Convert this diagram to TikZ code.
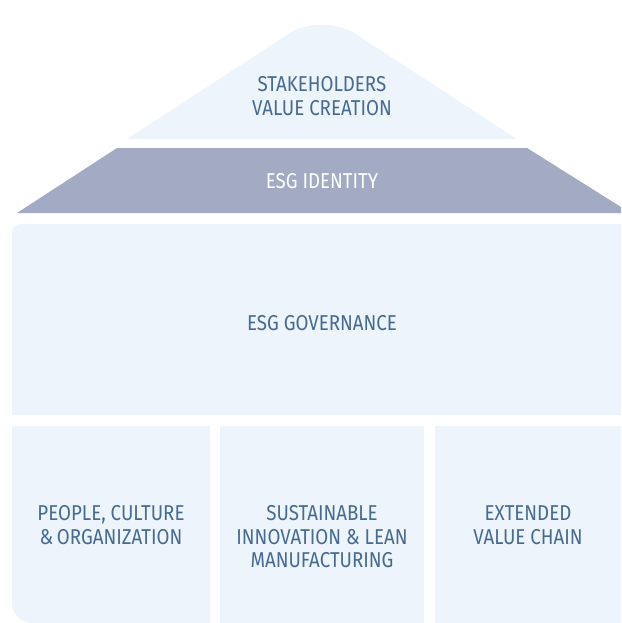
\documentclass[tikz,border=0pt]{standalone}
\usepackage{fontspec}
\setmainfont{Fira Sans}[FakeStretch=0.87]
\usetikzlibrary{positioning}
\definecolor{paleblue}{HTML}{EDF4FB}
\definecolor{bandgrey}{HTML}{A2ABC3}
\definecolor{inkblue}{HTML}{466A92}
\tikzset{every node/.style={font=\fontsize{21.5}{23.5}\selectfont, align=center}}

\begin{document}
\begin{tikzpicture}[x=1pt, y=-1pt]
  \tikzstyle{block}=[fill=paleblue]
  \tikzstyle{label}=[text=inkblue]
  \useasboundingbox (0,0) rectangle (621,623);

  % roof and identity band
  \fill[block] (127,139) [rounded corners=40pt] -- (322,12) [sharp corners] -- (517,139) -- cycle;
  \fill[bandgrey] (117,148) -- (527,148) -- (621,207) -- (621,213) -- (17,213) -- cycle;

  % governance
  \fill[block] (621,415) -- (12,415) [rounded corners=8pt] -- (12,224) [sharp corners] -- (621,224) -- cycle;

  % pillars
  \fill[block] (210,426) -- (210,623) [rounded corners=20pt] -- (12,623) [sharp corners] -- (12,426) -- cycle;
  \fill[block] (220,426) rectangle (424,623);
  \fill[block] (435,426) rectangle (621,623);

  \node(roof) [label] at (322,96) {STAKEHOLDERS\\VALUE CREATION};
  \node(identity) [text=white] at (322,181) {ESG IDENTITY};
  \node(gov) [label] at (322,323) {ESG GOVERNANCE};
  \node(people) [label] at (111,525) {PEOPLE, CULTURE\\\&\,ORGANIZATION};
  \node(lean) [label] at (322,537) {SUSTAINABLE\\INNOVATION \& LEAN\\MANUFACTURING};
  \node(chain) [label] at (528,525) {EXTENDED\\VALUE CHAIN};
\end{tikzpicture}
\end{document}
